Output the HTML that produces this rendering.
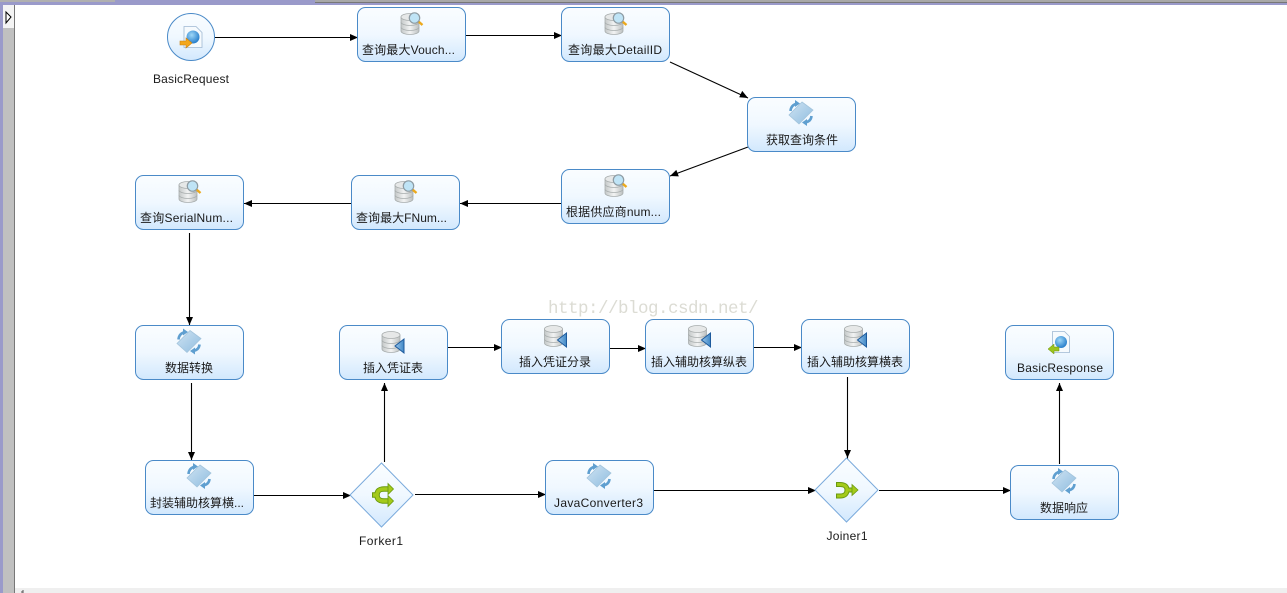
<!DOCTYPE html>
<html>
<head>
<meta charset="utf-8">
<style>
html,body{margin:0;padding:0;background:#fff;width:1287px;height:593px;overflow:hidden}
svg{display:block}
text{font-family:"Liberation Sans","Noto Sans CJK SC",sans-serif;font-size:12px;fill:#1a1a1a;text-anchor:middle}
.wm{font-family:"Liberation Mono",monospace;font-size:17.5px;fill:#dcdcd4;text-anchor:start}
.n{fill:url(#nodeFill);stroke:#4a8ac8;stroke-width:1}
.c{fill:none;stroke:#000;stroke-width:1.1}
.a{fill:#000}
</style>
</head>
<body>
<svg width="1287" height="593" viewBox="0 0 1287 593" xmlns="http://www.w3.org/2000/svg">
<defs>
<linearGradient id="nodeFill" x1="0" y1="0" x2="0" y2="1"><stop offset="0" stop-color="#fafdff"/><stop offset="0.5" stop-color="#f0f8ff"/><stop offset="1" stop-color="#d2e8fd"/></linearGradient>
<linearGradient id="dbFill" x1="0" y1="0" x2="1" y2="0"><stop offset="0" stop-color="#c4c8c8"/><stop offset="0.5" stop-color="#f2f3f3"/><stop offset="1" stop-color="#bcc0c0"/></linearGradient>
<linearGradient id="blueTri" x1="0" y1="0" x2="1" y2="0"><stop offset="0" stop-color="#9cc8ec"/><stop offset="1" stop-color="#3f87c6"/></linearGradient>
<linearGradient id="band" x1="0" y1="0" x2="1" y2="1"><stop offset="0" stop-color="#cfe3f2"/><stop offset="1" stop-color="#8fbde0"/></linearGradient>
<radialGradient id="globe" cx="0.4" cy="0.35" r="0.7"><stop offset="0" stop-color="#9fd8f8"/><stop offset="1" stop-color="#1f78c8"/></radialGradient>

<g id="db">
<path d="M-9,-7 v14 a9,3.500 0 0 0 18,0 v-14 z" fill="url(#dbFill)" stroke="#a8adad" stroke-width="0.8"/>
<ellipse cx="0" cy="-7" rx="9" ry="3.500" fill="#e6e8e8" stroke="#a8adad" stroke-width="0.8"/>
<path d="M-9,-2 a9,3.500 0 0 0 18,0 M-9,3 a9,3.500 0 0 0 18,0" fill="none" stroke="#a8adad" stroke-width="0.8"/>
</g>
<g id="qdb">
<use href="#db"/>
<path d="M8.500,-2.500 l4,3.500" stroke="#eca91c" stroke-width="2.400"/>
<circle cx="4.500" cy="-6" r="5.200" fill="#bfe4f6" stroke="#8d9ba3" stroke-width="1.200"/>
</g>
<g id="idb">
<use href="#db"/>
<path d="M13,-3 V11 L4,4 z" fill="url(#blueTri)" stroke="#1d5a9c" stroke-width="1"/>
</g>
<g id="conv">
<path d="M1,-11 L12,-3 L-2,11 L-12,2 z" fill="url(#band)" stroke="#a3c4dc" stroke-width="0.8"/>
<path d="M-10.500,-2 Q-10,-8 -4,-9.500" fill="none" stroke="#5f9fd0" stroke-width="2.600"/>
<path d="M-6,-13 L-1,-9.500 L-6,-6 z" fill="#5f9fd0"/>
<path d="M10.500,3 Q10,8.500 4,9.500" fill="none" stroke="#5f9fd0" stroke-width="2.600"/>
<path d="M6,6 L1,9.500 L6,13 z" fill="#5f9fd0"/>
</g>
</defs>

<!-- window chrome -->
<rect x="0" y="0" width="1287" height="5" fill="#9a9aca"/>
<rect x="0" y="0" width="115" height="2" fill="#b0b0b0"/>
<rect x="315" y="0" width="972" height="2" fill="#a8a8a8"/>
<rect x="315" y="2" width="972" height="1" fill="#777"/>
<rect x="0" y="5" width="3" height="588" fill="#9a9aca"/>
<rect x="3" y="5" width="11" height="588" fill="#c0c0c0"/>
<rect x="14" y="5" width="1" height="588" fill="#777"/>
<rect x="3" y="5" width="11" height="23" fill="#f4f4f4"/>
<path d="M6,12 L11,17 L6,23 z" fill="#fff" stroke="#000" stroke-width="1"/>
<rect x="15" y="588" width="1272" height="5" fill="#efefef"/>
<path d="M23,593 v-3 M21,592 h2" stroke="#555" stroke-width="1"/>

<!-- watermark -->
<text class="wm" y="313" x="548 558 568 578 588 598 608 618 628 638 648 658 668 678 688 698 708 718 728 738 748">http://blog.csdn.net/</text>

<!-- connectors -->
<path class="c" d="M215,37.500H358"/>
<path class="c" d="M466,35.500H562"/>
<path class="c" d="M670,62L748,98"/>
<path class="c" d="M748,147L670,176"/>
<path class="c" d="M562,203.500H460"/>
<path class="c" d="M352,203.500H244"/>
<path class="c" d="M189.500,233V326"/>
<path class="c" d="M191.500,383V461"/>
<path class="c" d="M254,495.500H351"/>
<path class="c" d="M384.500,462V383"/>
<path class="c" d="M415,494.500H546"/>
<path class="c" d="M448,347.500H502"/>
<path class="c" d="M610,348.500H646"/>
<path class="c" d="M754,347.500H802"/>
<path class="c" d="M654,490.500H816"/>
<path class="c" d="M847.500,377V459"/>
<path class="c" d="M879,490.500H1011"/>
<path class="c" d="M1059.500,464V383"/>

<!-- arrowheads -->
<path class="a" d="M358,37.500l-8,-3.500v7z"/>
<path class="a" d="M562,35.500l-8,-3.500v7z"/>
<path class="a" d="M748,98l-8.800,-0.700l3,-6.400z"/>
<path class="a" d="M670,176l6.300,-6.100l2.500,6.500z"/>
<path class="a" d="M460,203.500l8,-3.500v7z"/>
<path class="a" d="M244,203.500l8,-3.500v7z"/>
<path class="a" d="M189.500,325l-3.500,-8h7z"/>
<path class="a" d="M191.500,460l-3.500,-8h7z"/>
<path class="a" d="M351,495.500l-8,-3.500v7z"/>
<path class="a" d="M384.500,383l-3.500,8h7z"/>
<path class="a" d="M546,494.500l-8,-3.500v7z"/>
<path class="a" d="M502,347.500l-8,-3.500v7z"/>
<path class="a" d="M646,348.500l-8,-3.500v7z"/>
<path class="a" d="M802,347.500l-8,-3.500v7z"/>
<path class="a" d="M816,490.500l-8,-3.500v7z"/>
<path class="a" d="M847.500,458l-3.500,-8h7z"/>
<path class="a" d="M1011,490.500l-8,-3.500v7z"/>
<path class="a" d="M1059.500,383l-3.500,8h7z"/>

<!-- start circle -->
<circle cx="191" cy="37" r="23.500" fill="url(#nodeFill)" stroke="#4a8ac8" stroke-width="1"/>
<path d="M184,26.500h12l6,6v15h-18z" fill="#f6fafd" stroke="#9fb8d2" stroke-width="0.8"/>
<circle cx="193" cy="37" r="6.500" fill="url(#globe)"/>
<path d="M180,41h6v-3l6,5l-6,5v-3h-6z" fill="#f3a71c" stroke="#c97f10" stroke-width="0.6"/>
<text x="191" y="83" textLength="76">BasicRequest</text>

<!-- nodes -->
<rect class="n" x="357.500" y="7.500" width="108" height="54" rx="8"/><use href="#qdb" x="410" y="24"/><text x="408.500" y="54" textLength="93">查询最大Vouch...</text>
<rect class="n" x="561.500" y="7.500" width="108" height="54" rx="8"/><use href="#qdb" x="614" y="24"/><text x="615" y="54" textLength="94">查询最大DetailID</text>
<rect class="n" x="747.500" y="97.500" width="108" height="54" rx="8"/><use href="#conv" x="801" y="113"/><text x="802" y="144">获取查询条件</text>
<rect class="n" x="561.500" y="169.500" width="108" height="54" rx="8"/><use href="#qdb" x="614" y="186"/><text x="613.500" y="216" textLength="95">根据供应商num...</text>
<rect class="n" x="351.500" y="175.500" width="108" height="54" rx="8"/><use href="#qdb" x="404" y="192"/><text x="401.500" y="222" textLength="91">查询最大FNum...</text>
<rect class="n" x="135.500" y="175.500" width="108" height="54" rx="8"/><use href="#qdb" x="188" y="192"/><text x="186.500" y="222" textLength="93">查询SerialNum...</text>
<rect class="n" x="135.500" y="325.500" width="108" height="54" rx="8"/><use href="#conv" x="189" y="341.500"/><text x="189" y="372">数据转换</text>
<rect class="n" x="339.500" y="325.500" width="108" height="54" rx="8"/><use href="#idb" x="391" y="342"/><text x="393" y="372">插入凭证表</text>
<rect class="n" x="501.500" y="319.500" width="108" height="54" rx="8"/><use href="#idb" x="553.500" y="336"/><text x="555" y="366">插入凭证分录</text>
<rect class="n" x="645.500" y="319.500" width="108" height="54" rx="8"/><use href="#idb" x="697.500" y="336"/><text x="699" y="366">插入辅助核算纵表</text>
<rect class="n" x="801.500" y="319.500" width="108" height="54" rx="8"/><use href="#idb" x="853.500" y="336"/><text x="855" y="366">插入辅助核算横表</text>
<rect class="n" x="1005.500" y="325.500" width="108" height="54" rx="8"/>
<path d="M1052.500,331.500h12l5,5v16h-17z" fill="#f6fafd" stroke="#9fb8d2" stroke-width="0.8"/>
<circle cx="1061" cy="342" r="6" fill="url(#globe)"/>
<path d="M1048,349l6,-5v3h5v4h-5v3z" fill="#9cc41c" stroke="#6a9010" stroke-width="0.5"/>
<text x="1060" y="372" textLength="86">BasicResponse</text>
<rect class="n" x="145.500" y="460.500" width="108" height="54" rx="8"/><use href="#conv" x="199" y="476"/><text x="197" y="507">封装辅助核算横...</text>
<rect class="n" x="545.500" y="460.500" width="108" height="54" rx="8"/><use href="#conv" x="599" y="476"/><text x="598.500" y="507" textLength="89">JavaConverter3</text>
<rect class="n" x="1010.500" y="465.500" width="108" height="54" rx="8"/><use href="#conv" x="1064" y="481"/><text x="1064" y="512">数据响应</text>

<!-- forker -->
<path d="M381.500,463L413,495L381.500,527L350,495z" fill="url(#nodeFill)" stroke="#7aaadc" stroke-width="1"/>
<g fill="none">
<path d="M389,489H384Q377,489 377,495Q377,501 384,501H389M372,495H378" stroke="#6a9a10" stroke-width="5.500"/>
<path d="M389,489H384Q377,489 377,495Q377,501 384,501H389M373,495H378" stroke="#a4ca1a" stroke-width="3.500"/>
</g>
<path d="M388,483.500l5.500,5.500l-5.500,5.500zM388,495.500l5.500,5.500l-5.500,5.500z" fill="#a4ca1a" stroke="#6a9a10" stroke-width="0.8"/>
<text x="381" y="545" textLength="44">Forker1</text>

<!-- joiner -->
<path d="M846.500,458L878,490L846.500,522L815,490z" fill="url(#nodeFill)" stroke="#7aaadc" stroke-width="1"/>
<g fill="none">
<path d="M836,484.500H840Q847,484.500 847,490Q847,496 840,496H836M847,490H853" stroke="#6a9a10" stroke-width="5"/>
<path d="M837,484.500H840Q847,484.500 847,490Q847,496 840,496H837M847,490H853" stroke="#a4ca1a" stroke-width="3"/>
</g>
<path d="M852,484.500l6,5.500l-6,5.500z" fill="#a4ca1a" stroke="#6a9a10" stroke-width="0.8"/>
<text x="847" y="540" textLength="41">Joiner1</text>
</svg>
</body>
</html>
